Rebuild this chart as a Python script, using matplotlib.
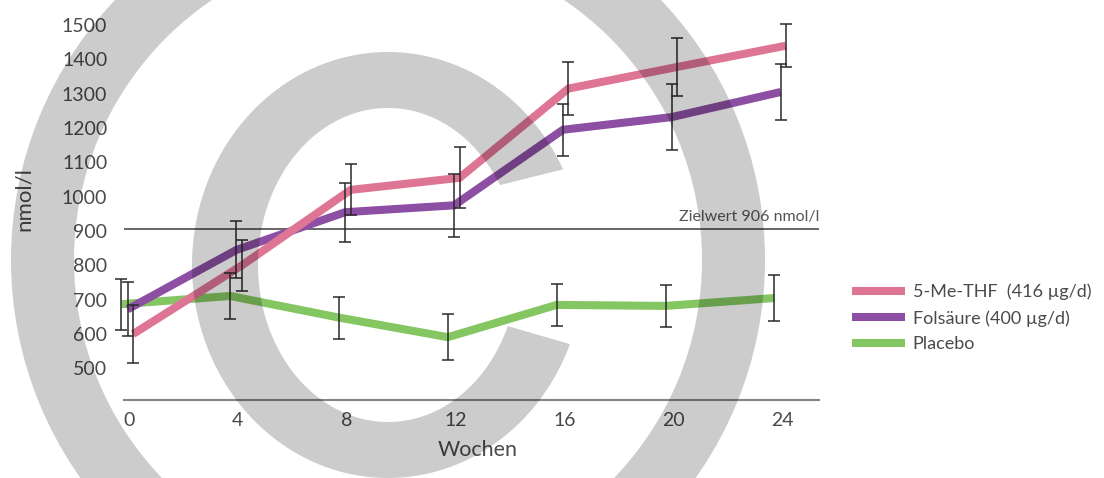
import numpy as np
import matplotlib
matplotlib.use("Agg")
import matplotlib.pyplot as plt
from matplotlib.patches import Wedge, Polygon

# Wochen der Messungen
weeks = [0, 4, 8, 12, 16, 20, 24]

# Mittelwerte und Standardabweichungen (nmol/l)
me_thf = [600, 800, 1020, 1055, 1315, 1378, 1440]
me_thf_err = [85, 75, 74, 89, 77, 84, 63]
folsaeure = [672, 845, 955, 975, 1195, 1232, 1305]
folsaeure_err = [79, 83, 86, 91, 76, 96, 82]
placebo = [687, 711, 648, 591, 685, 682, 705]
placebo_err = [74, 67, 61, 67, 62, 61, 66]

labels = ["5-Me-THF  (416 µg/d)", "Folsäure (400 µg/d)", "Placebo"]
zielwert = 906
y_ticks = list(range(500, 1501, 100))

TXT = "#4a4a4a"
plt.rcParams["font.family"] = ["Lato", "DejaVu Sans"]
plt.rcParams["text.color"] = TXT

W, H = 1104, 478
fig = plt.figure(figsize=(W / 100, H / 100), dpi=100)
ax = fig.add_axes([124 / W, 1 - 400 / H, 695 / W, 400 / H])

# (Werte, Fehler, Farbe, seitlicher Versatz in Wochen, Beschriftung)
series = [
    (placebo, placebo_err, "#84c661", -0.28, labels[2]),
    (folsaeure, folsaeure_err, "#8c4fa3", -0.05, labels[1]),
    (me_thf, me_thf_err, "#df7595", 0.15, labels[0]),
]
handles = {}
for vals, err, col, dx, lab in series:
    xs = np.array(weeks) + dx
    ln, = ax.plot(xs, vals, color=col, lw=5.8, solid_joinstyle="miter",
                  solid_capstyle="butt", zorder=3, clip_on=False, label=lab)
    ax.errorbar(xs, vals, yerr=err, fmt="none", ecolor="#2a2a2a",
                elinewidth=1.1, capsize=4.5, capthick=1.1, zorder=4,
                clip_on=False)
    handles[lab] = ln

ax.axhline(zielwert, color="#5a5a5a", lw=1.3, zorder=2)
ax.text(25.36, zielwert + 16, f"Zielwert {zielwert} nmol/l", ha="right",
        va="bottom", fontsize=11.5, color="#555555")

ax.set_xlim(-0.18, 25.36)
ax.set_ylim(408, 1573)
ax.set_xticks(weeks)
ax.set_yticks(y_ticks)
ax.tick_params(axis="both", length=0, labelsize=14, colors=TXT)
ax.tick_params(axis="x", pad=9)
ax.tick_params(axis="y", pad=12)
for s in ["top", "right", "left"]:
    ax.spines[s].set_visible(False)
ax.spines["bottom"].set_color("#858585")
ax.spines["bottom"].set_linewidth(1.5)
ax.patch.set_alpha(0)

fig.text(24 / W, 1 - 199 / H, "nmol/l", rotation=90, ha="center",
         va="center", fontsize=16)
fig.text(478 / W, 1 - 450 / H, "Wochen", ha="center", va="center",
         fontsize=15.5)

fig.legend([handles[l] for l in labels], labels, loc="center left",
           bbox_to_anchor=(845 / W, 1 - 318 / H), frameon=False,
           fontsize=13, handlelength=2.9, handletextpad=0.45,
           labelspacing=0.55, borderaxespad=0)

# Copyright-Zeichen als halbtransparente Überlagerung in Pixelkoordinaten
ov = fig.add_axes([0, 0, 1, 1], zorder=10)
ov.set_xlim(0, W)
ov.set_ylim(H, 0)
ov.axis("off")
ov.patch.set_alpha(0)
ov.add_patch(Wedge((388, 260), 377, 0, 360, width=63, facecolor="black",
                   alpha=0.2, edgecolor="none"))

cx, cy = 388, 265
t_out = np.radians(np.linspace(26.7, 338.2, 200))
t_in = np.radians(np.linspace(337.1, 30.6, 200))
outer = np.column_stack([cx + 196 * np.cos(t_out), cy - 213 * np.sin(t_out)])
inner = np.column_stack([cx + 130 * np.cos(t_in), cy - 157 * np.sin(t_in)])
ov.add_patch(Polygon(np.vstack([outer, inner]), closed=True,
                     facecolor="black", alpha=0.2, edgecolor="none"))

fig.savefig("out.png", dpi=100)
